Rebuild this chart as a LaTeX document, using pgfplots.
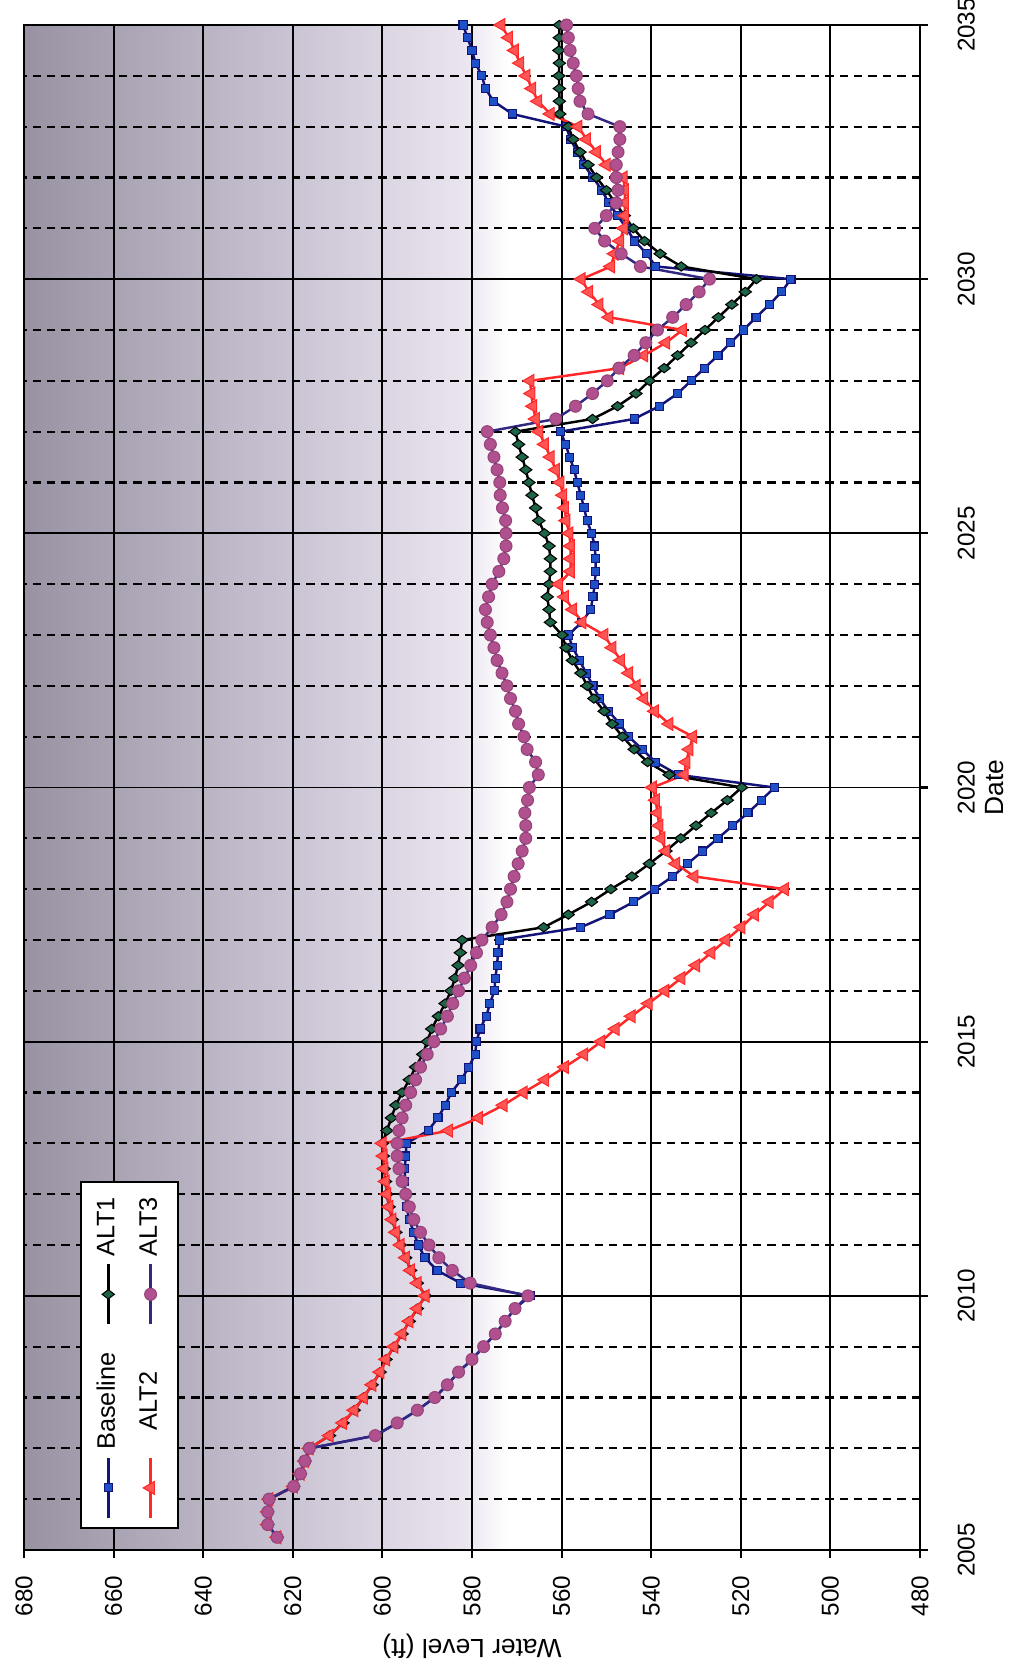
\documentclass[border=0pt]{standalone}
\usepackage{pgfplots}
\usepackage{pgfplotstable}
\pgfplotsset{compat=1.18}
\usepackage{fontspec}
\setmainfont{Liberation Sans}

\definecolor{bgA}{RGB}{152,146,162}
\definecolor{bgB}{RGB}{196,189,206}
\definecolor{bgC}{RGB}{234,228,239}
\definecolor{baseLine}{RGB}{20,20,120}
\definecolor{baseMark}{RGB}{30,80,200}
\definecolor{altOneMark}{RGB}{30,100,70}
\definecolor{altTwo}{RGB}{255,40,40}
\definecolor{altTwoMark}{RGB}{255,85,85}
\definecolor{altThreeLine}{RGB}{50,40,130}
\definecolor{altThreeMark}{RGB}{176,80,142}

% plot area fill: white low, greyish lavender towards the top
\pgfdeclareverticalshading{bgshade}{100bp}{color(0bp)=(white); color(48bp)=(white); color(50.5bp)=(bgC); color(62bp)=(bgB); color(75bp)=(bgA); color(100bp)=(bgA)}

% date, then water level (ft) of each run, quarterly
\pgfplotstableread{
date    base   alt1   alt2   alt3
2005.25 623.5  623.5  623.5  623.5
2005.50 625.6  625.6  625.6  625.6
2005.75 625.6  625.6  625.6  625.6
2006.00 625.3  625.3  625.3  625.3
2006.25 619.8  619.8  619.8  619.8
2006.50 618.3  618.3  618.3  618.3
2006.75 617.3  617.3  617.3  617.3
2007.00 616.3  616.3  616.3  616.3
2007.25 601.6  611.8  611.8  601.6
2007.50 596.7  608.8  608.8  596.7
2007.75 592.2  606.3  606.3  592.2
2008.00 588.3  604.2  604.2  588.3
2008.25 585.5  602.3  602.3  585.5
2008.50 583.0  600.5  600.5  583.0
2008.75 580.0  599.2  599.2  580.0
2009.00 577.4  597.4  597.4  577.4
2009.25 574.8  595.6  595.6  574.8
2009.50 572.6  594.0  594.0  572.6
2009.75 570.4  592.2  592.2  570.4
2010.00 567.0  590.4  590.4  567.5
2010.25 582.5  592.2  592.2  580.4
2010.50 587.8  593.7  593.7  584.4
2010.75 590.5  594.8  594.8  587.4
2011.00 592.0  596.0  596.0  589.6
2011.25 593.0  597.0  597.0  591.5
2011.50 594.0  597.8  597.8  593.0
2011.75 594.6  598.5  598.5  594.0
2012.00 594.9  599.0  599.0  594.8
2012.25 595.0  599.3  599.3  595.6
2012.50 595.0  599.6  599.6  596.3
2012.75 594.8  599.8  599.8  596.7
2013.00 594.6  600.0  600.0  596.7
2013.25 589.8  599.0  585.2  596.3
2013.50 587.6  598.0  578.5  595.6
2013.75 586.0  597.0  573.0  594.8
2014.00 584.6  595.6  568.5  593.7
2014.25 582.4  594.0  563.7  592.6
2014.50 580.7  592.6  559.3  591.5
2014.75 579.3  591.0  555.0  590.0
2015.00 579.0  590.0  551.2  588.5
2015.25 578.2  589.0  548.0  587.0
2015.50 576.8  587.5  544.4  585.5
2015.75 576.0  586.0  540.6  584.3
2016.00 575.0  584.7  536.9  583.0
2016.25 574.8  583.8  533.3  581.7
2016.50 574.4  583.1  530.0  580.3
2016.75 574.2  582.6  526.6  579.0
2017.00 573.8  582.2  523.3  577.8
2017.25 555.7  564.0  519.9  575.5
2017.50 549.2  558.5  516.9  573.5
2017.75 543.9  553.3  513.6  572.2
2018.00 539.3  549.0  510.2  571.4
2018.25 535.2  544.3  530.4  570.6
2018.50 531.9  540.4  534.5  569.7
2018.75 528.5  536.7  536.7  568.8
2019.00 525.1  533.4  537.8  568.0
2019.25 521.8  530.0  538.2  568.0
2019.50 518.4  526.6  538.6  568.2
2019.75 515.4  523.0  539.0  567.6
2020.00 512.5  519.8  539.7  567.2
2020.25 534.0  536.0  532.6  565.2
2020.50 539.0  540.8  532.2  565.8
2020.75 542.0  543.8  531.5  567.7
2021.00 545.0  546.4  530.7  568.4
2021.25 547.0  548.7  536.0  569.6
2021.50 549.5  550.5  539.2  570.3
2021.75 551.5  552.8  541.6  571.4
2022.00 553.0  554.3  543.3  572.2
2022.25 554.5  555.7  545.0  573.3
2022.50 556.0  557.6  546.8  574.4
2022.75 557.5  559.0  548.7  575.1
2023.00 558.5  559.9  550.5  575.9
2023.25 555.5  562.5  555.4  576.6
2023.50 553.5  562.8  557.5  577.0
2023.75 553.0  563.2  559.3  576.3
2024.00 552.6  562.8  560.6  575.5
2024.25 552.4  562.5  558.0  574.0
2024.50 552.4  562.5  558.0  572.9
2024.75 552.6  562.8  558.0  572.4
2025.00 553.3  563.8  558.3  572.4
2025.25 554.3  565.1  559.0  572.5
2025.50 555.0  565.8  559.3  573.2
2025.75 555.7  566.6  559.7  573.7
2026.00 556.5  567.3  560.3  573.8
2026.25 557.2  568.0  561.3  574.4
2026.50 558.2  568.8  562.5  575.1
2026.75 559.1  569.6  563.8  575.9
2027.00 560.2  570.3  565.0  576.6
2027.25 543.8  553.1  565.8  561.3
2027.50 538.2  547.5  566.4  556.9
2027.75 534.1  543.4  566.8  553.1
2028.00 531.1  540.4  567.0  549.8
2028.25 528.1  537.1  547.0  547.2
2028.50 525.1  534.1  541.6  543.8
2028.75 522.3  531.1  536.7  541.2
2029.00 519.4  528.0  533.0  538.6
2029.25 516.6  525.0  549.4  535.2
2029.50 513.6  522.0  551.6  532.2
2029.75 510.9  519.0  553.9  529.3
2030.00 508.8  516.5  555.6  527.0
2030.25 539.0  533.3  549.0  542.4
2030.50 541.0  538.0  548.2  546.7
2030.75 543.7  541.5  547.0  550.4
2031.00 545.5  544.0  546.1  552.6
2031.25 547.5  546.0  545.9  550.0
2031.50 549.5  548.0  545.9  547.8
2031.75 551.0  550.0  545.9  547.4
2032.00 553.0  552.2  546.2  547.8
2032.25 555.0  554.1  550.0  547.8
2032.50 556.5  555.9  552.2  547.4
2032.75 558.0  557.4  554.4  547.0
2033.00 559.0  558.5  556.3  547.0
2033.25 571.0  560.4  562.5  554.1
2033.50 575.2  560.5  565.3  555.9
2033.75 577.0  560.5  566.6  556.3
2034.00 577.8  560.6  567.9  556.7
2034.25 579.2  560.5  569.3  557.4
2034.50 580.0  560.6  570.5  558.1
2034.75 581.0  560.5  571.8  558.5
2035.00 582.0  560.5  573.5  558.9
}\levels

\begin{document}
% the page shows the chart turned a quarter turn counter-clockwise
\begin{tikzpicture}[rotate=90, transform shape]
\path[use as bounding box] (-1.30cm,-1.09cm) rectangle (15.50cm,9.20cm);
\begin{axis}[
  scale only axis,
  width=15.25cm, height=8.96cm,
  at={(0,0)}, anchor=south west,
  xmin=2005, xmax=2035,
  xtick={2005,2010,...,2035},
  minor x tick num=4,
  ymin=480, ymax=680,
  ytick={480,500,...,680},
  xtick pos=bottom, ytick pos=left,
  tick align=outside,
  major tick length=0.08cm, minor tick length=0pt,
  tick style={black, line width=0.6pt},
  /pgf/number format/1000 sep={},
  /pgf/number format/assume math mode=true,
  grid=both,
  major grid style={black, line width=0.55pt},
  minor grid style={black, line width=0.65pt, dash pattern=on 2.4pt off 1.7pt},
  axis line style={black, line width=0.8pt},
  axis background/.style={shade, shading=bgshade},
  xticklabel style={anchor=north, inner sep=0pt, font=\fontsize{6.9}{8}\selectfont},
  xticklabel shift=0.29cm,
  yticklabel style={anchor=east, inner sep=0pt, font=\fontsize{6.9}{8}\selectfont},
  yticklabel shift=0.17cm,
  xlabel={Date},
  xlabel style={anchor=north, inner sep=0pt, outer sep=3pt, font=\fontsize{7.5}{9}\selectfont},
  ylabel={Water Level (ft)},
  ylabel style={anchor=south, inner sep=0pt, outer sep=5pt, font=\fontsize{7.5}{9}\selectfont},
  legend columns=2,
  legend style={at={(axis description cs:0.128,0.8825)}, anchor=center,
    draw=black, fill=white, line width=0.6pt, font=\fontsize{7.2}{8.5}\selectfont,
    /tikz/every even column/.append style={column sep=0.2cm},
    row sep=0.05cm, inner sep=2.5pt},
]
\addplot[baseLine, line width=0.7pt, mark=square*, mark size=1.15pt,
  mark options={solid, fill=baseMark, draw=baseLine, line width=0.3pt}]
  table[x=date, y=base] {\levels};
\addlegendentry{Baseline}
\addplot[black, line width=0.7pt, mark=diamond*, mark size=1.75pt,
  mark options={solid, fill=altOneMark, draw=black, line width=0.3pt}]
  table[x=date, y=alt1] {\levels};
\addlegendentry{ALT1}
\addplot[altTwo, line width=0.7pt, mark=triangle*, mark size=2.1pt,
  mark options={solid, fill=altTwoMark, draw=altTwo, line width=0.3pt}]
  table[x=date, y=alt2] {\levels};
\addlegendentry{ALT2}
\addplot[altThreeLine, line width=0.7pt, mark=*, mark size=1.7pt,
  mark options={solid, fill=altThreeMark, draw=altThreeMark!85!black, line width=0.3pt}]
  table[x=date, y=alt3] {\levels};
\addlegendentry{ALT3}
\end{axis}
\end{tikzpicture}
\end{document}
